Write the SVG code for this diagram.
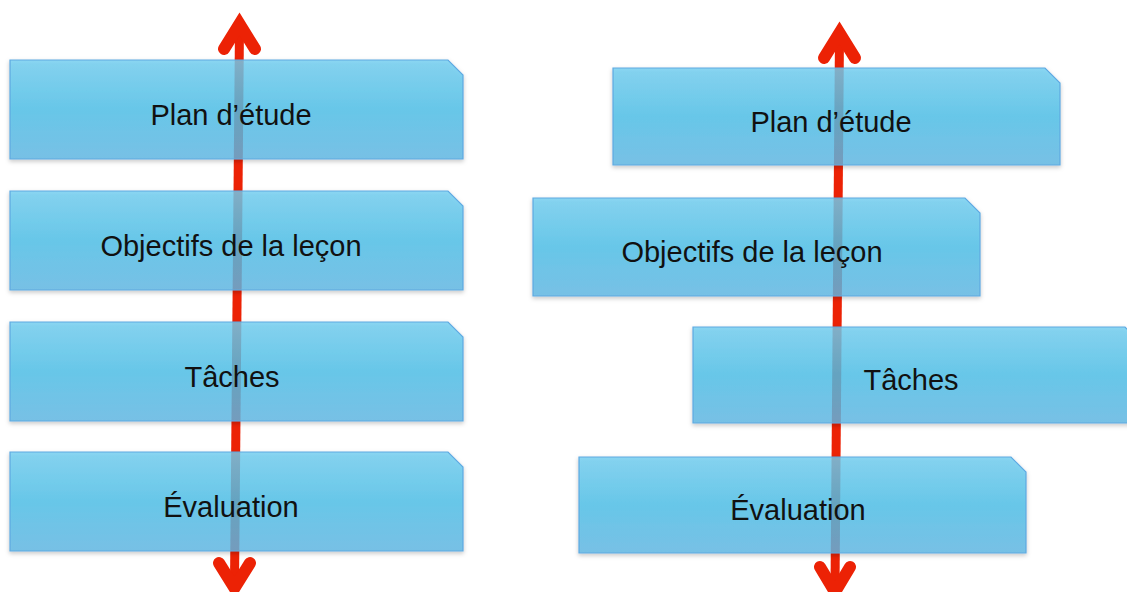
<svg xmlns="http://www.w3.org/2000/svg" width="1127" height="592" viewBox="0 0 1127 592">
<defs>
<linearGradient id="g" x1="0" y1="0" x2="0" y2="1">
<stop offset="0" stop-color="#70cef1"/>
<stop offset="0.5" stop-color="#4cc0e9"/>
<stop offset="1" stop-color="#60b8e5"/>
</linearGradient>
<filter id="sh" x="-5%" y="-10%" width="110%" height="130%">
<feDropShadow dx="0" dy="2" stdDeviation="2" flood-color="#000" flood-opacity="0.25"/>
</filter>
</defs>
<style>
.box{fill:url(#g);fill-opacity:0.8;stroke:#5ea9e2;stroke-width:1.2;filter:url(#sh)}
.lbl{font-family:"Liberation Sans",Arial,sans-serif;font-size:29px;fill:#111;text-anchor:middle}
.shaft{stroke:#ec2205;stroke-width:9;fill:none}
.head{stroke:#ec2205;stroke-width:12;fill:none;stroke-linecap:round;stroke-linejoin:miter}
</style>
<rect width="1127" height="592" fill="#fff"/>
<g id="connectors">
<line class="shaft" x1="239.5" y1="26" x2="234.5" y2="584"/>
<polyline class="head" points="224,49 239.5,24 255,49"/>
<polyline class="head" points="219,563 234.5,588 250,563"/>
<line class="shaft" x1="839.5" y1="35" x2="835" y2="588"/>
<polyline class="head" points="824,58 839.5,33 855,58"/>
<polyline class="head" points="820,567 835,592 850,567"/>
</g>
<g id="left-plan"><path class="box" d="M10,60 H448 L463,75 V159 H10 Z"/><text class="lbl" x="231" y="125">Plan d’étude</text></g>
<g id="left-objectifs"><path class="box" d="M10,191 H448 L463,206 V290 H10 Z"/><text class="lbl" x="231" y="256">Objectifs de la leçon</text></g>
<g id="left-taches"><path class="box" d="M10,322 H448 L463,337 V421 H10 Z"/><text class="lbl" x="232" y="387">Tâches</text></g>
<g id="left-evaluation"><path class="box" d="M10,452 H448 L463,467 V551 H10 Z"/><text class="lbl" x="231" y="517">Évaluation</text></g>
<g id="right-plan"><path class="box" d="M613,68 H1045 L1060,83 V165 H613 Z"/><text class="lbl" x="831" y="132">Plan d’étude</text></g>
<g id="right-objectifs"><path class="box" d="M533,198 H965 L980,213 V296 H533 Z"/><text class="lbl" x="752" y="262">Objectifs de la leçon</text></g>
<g id="right-taches"><path class="box" d="M693,327 H1125 L1140,342 V423 H693 Z"/><text class="lbl" x="911" y="390">Tâches</text></g>
<g id="right-evaluation"><path class="box" d="M579,457 H1011 L1026,472 V553 H579 Z"/><text class="lbl" x="798" y="520">Évaluation</text></g>
</svg>
